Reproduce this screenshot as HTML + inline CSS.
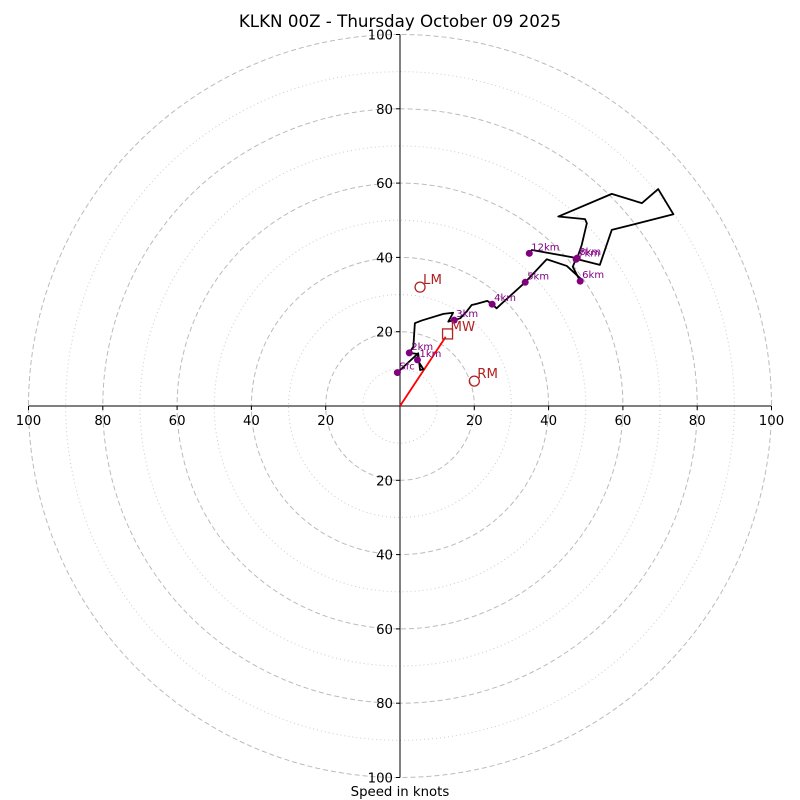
<!DOCTYPE html>
<html><head><meta charset="utf-8"><style>
body{margin:0;background:#fff;width:800px;height:800px;overflow:hidden}
svg{display:block;font-family:"DejaVu Sans","Liberation Sans",sans-serif}
</style></head><body>
<svg id="c" width="800" height="800"></svg>
<script>
const ringMajor=[20,40,60,80,100];
const ringMinor=[10,30,50,70,90];
const tickVals=[20,40,60,80,100];
const traceU=[-0.7,4.9,5.4,6.3,4.7,4.9,2.5,3.6,4.0,5.8,11.7,14.3,13.0,14.6,16.2,17.9,19.3,20.6,23.5,24.8,26.0,27.4,33.7,39.5,44.9,48.5,48.5,46.5,47.4,53.8,57.0,73.6,69.5,65.1,57.0,42.6,49.8,50.3,48.9,47.7,35.5,34.8];
const traceV=[9.0,14.2,9.7,9.9,12.4,14.0,14.3,16.0,22.3,23.0,24.8,25.1,22.7,23.1,23.6,25.4,27.2,27.5,28.3,27.4,26.3,27.6,33.3,39.5,37.7,34.4,33.6,37.5,39.6,38.0,47.4,51.6,58.4,54.6,57.1,51.0,50.3,49.2,43.3,39.8,42.0,41.1];
const markLabels=["Sfc","1km","2km","3km","4km","5km","6km","7km","8km","12km"];
const markU=[-0.7,4.7,2.5,14.6,24.8,33.7,48.5,47.4,47.7,34.8];
const markV=[9.0,12.4,14.3,23.1,27.4,33.3,33.6,39.5,39.8,41.1];
const motionLabels=["LM","MW","RM"];
const motionU=[5.4,12.8,20.0];
const motionV=[32.0,19.4,6.7];
const cx=400,cy=406,k=3.715;
const X=u=>cx+u*k, Y=v=>cy-v*k;
const s=document.getElementById('c');const NS="http://www.w3.org/2000/svg";
function mk(t,a,txt){const e=document.createElementNS(NS,t);for(const n in a)e.setAttribute(n,a[n]);if(txt!=null)e.textContent=txt;s.appendChild(e);return e;}
ringMinor.forEach(r=>{const e=mk('circle',{cx,cy,r:r*k,fill:'none',stroke:'#ccc','stroke-dasharray':'1,3','stroke-width':1});

});
ringMajor.forEach(r=>{const e=mk('circle',{cx,cy,r:r*k,fill:'none',stroke:'#bbb','stroke-dasharray':'5,3','stroke-width':1});

});
let a=mk('line',{x1:X(-100),y1:cy,x2:X(100),y2:cy,stroke:'#000'});


a=mk('line',{x1:cx,y1:Y(100),x2:cx,y2:Y(-100),stroke:'#000'});


tickVals.forEach(t=>{
 [X(t),X(-t)].forEach(x=>{
  const m=mk('line',{x1:x,y1:cy,x2:x,y2:cy+4,stroke:'#000'});
  
  
  const e=mk('text',{x:x,y:cy+19,'font-size':13.3,'text-anchor':'middle'},t);
  
  });
 [Y(t),Y(-t)].forEach(y=>{
  const m=mk('line',{x1:cx-4,y1:y,x2:cx,y2:y,stroke:'#000'});
  
  
  const e=mk('text',{x:cx-7,y:y+5,'font-size':13.3,'text-anchor':'end'},t);
  
  });
});
let tt=mk('text',{x:400,y:27,'font-size':16.7,'text-anchor':'middle'},'KLKN 00Z - Thursday October 09 2025');


tt=mk('text',{x:400,y:796,'font-size':13.3,'text-anchor':'middle'},'Speed in knots');


let ar=mk('line',{x1:cx,y1:cy,x2:X(motionU[1]-0.5),y2:Y(motionV[1]-0.8),stroke:'red','stroke-width':1.8});


let pts=traceU.map((u,i)=>X(u)+','+Y(traceV[i])).join(' ');
let tr=mk('polyline',{points:pts,fill:'none',stroke:'#000','stroke-width':1.8,'stroke-linejoin':'round'});


markLabels.forEach((l,i)=>{
 const c=mk('circle',{cx:X(markU[i]),cy:Y(markV[i]),r:3.5,fill:'purple'});
 
 
 const t=mk('text',{x:X(markU[i])+2,y:Y(markV[i])-3,'font-size':10,fill:'purple'},l);
 
 
});
motionLabels.forEach((l,i)=>{
 const x=X(motionU[i]),y=Y(motionV[i]);
 let e;
 if(l==='MW')e=mk('rect',{x:x-5,y:y-5,width:10,height:10,fill:'none',stroke:'#b22222','stroke-width':1.3});
 else e=mk('circle',{cx:x,cy:y,r:5,fill:'none',stroke:'#b22222','stroke-width':1.3});
 
 
 const t=mk('text',{x:x+3,y:y-3,'font-size':13.3,fill:'#b22222'},l);
 
 
});
</script>
</body></html>
